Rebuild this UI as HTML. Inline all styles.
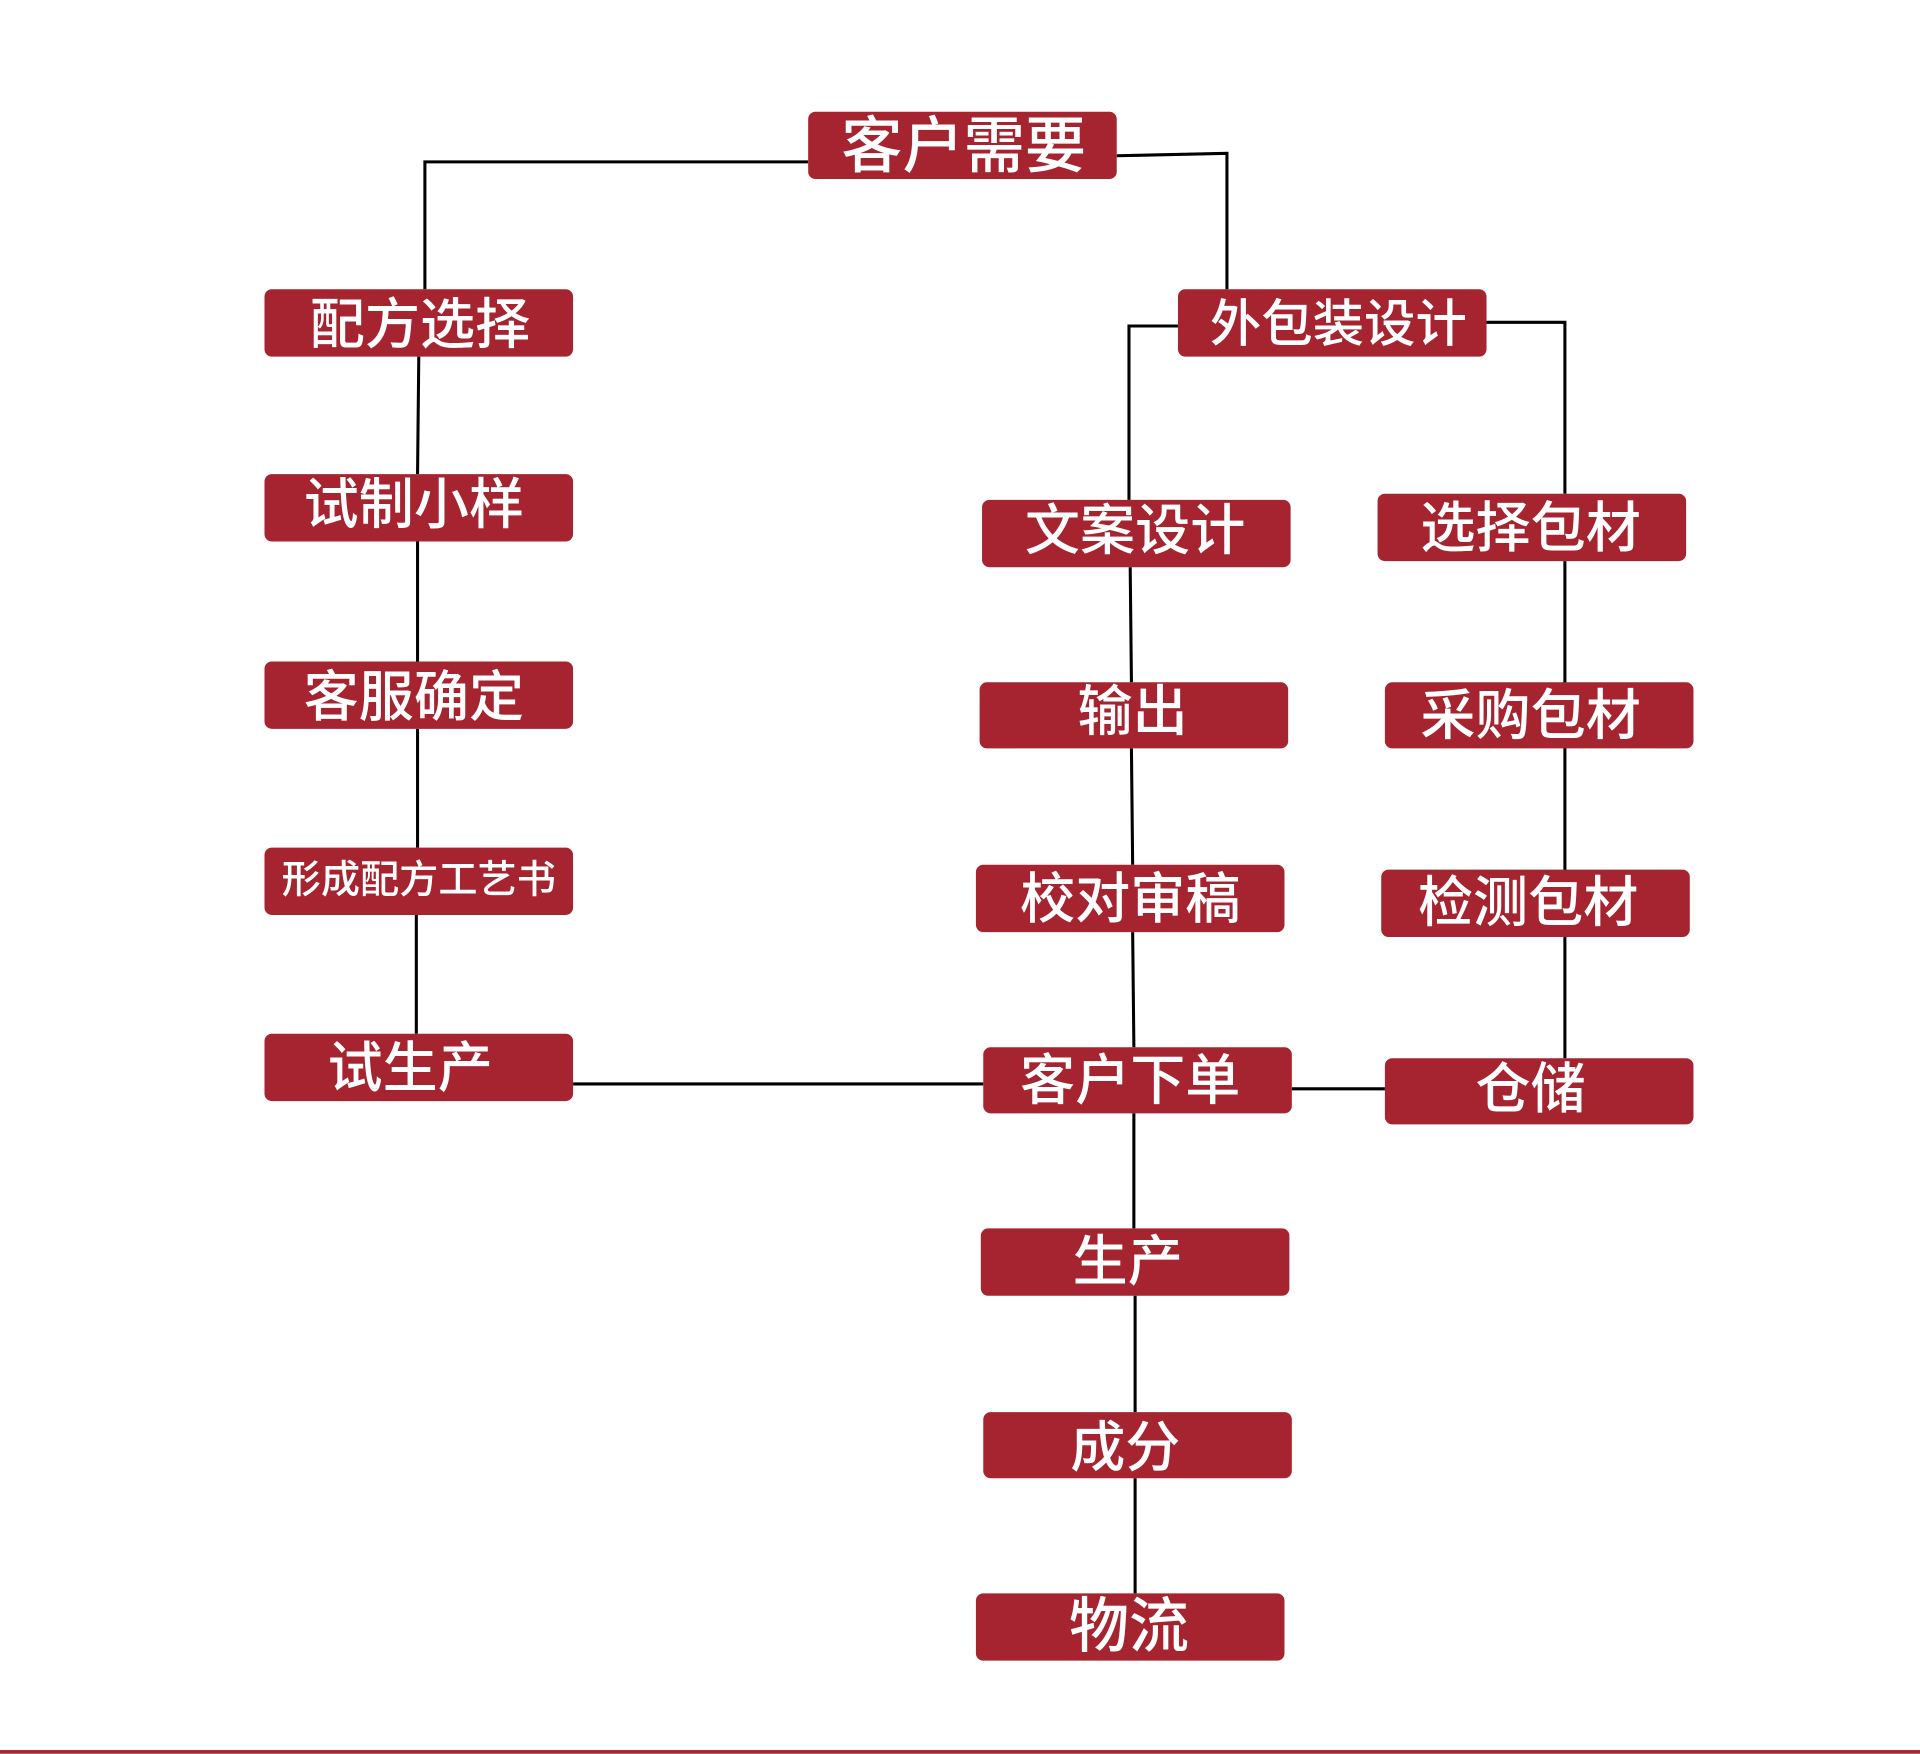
<!DOCTYPE html>
<html><head><meta charset="utf-8"><style>
html,body{margin:0;padding:0;background:#fff;}
svg{display:block}
text{font-family:"Liberation Sans","Noto Sans CJK SC",sans-serif;fill:#fff;font-weight:500;text-anchor:middle;dominant-baseline:central}
</style></head><body>
<svg width="1920" height="1754" viewBox="0 0 1568 1432" xmlns="http://www.w3.org/2000/svg">
<g stroke="#000" stroke-width="2.5" fill="none">
<polyline points="660,132 347,132 347,236"/>
<polyline points="912,127 1002,125 1002,236"/>
<line x1="342" y1="291" x2="341" y2="387"/>
<line x1="341" y1="442" x2="341" y2="540"/>
<line x1="341" y1="595" x2="341" y2="692"/>
<line x1="340" y1="747" x2="340" y2="844"/>
<polyline points="962,266 922,266 922,408"/>
<polyline points="1214,263 1278,263 1278,403"/>
<line x1="1278" y1="458" x2="1278" y2="864"/>
<line x1="923" y1="463" x2="924" y2="557"/>
<line x1="924" y1="611" x2="925" y2="706"/>
<line x1="925" y1="761" x2="926" y2="855"/>
<line x1="926" y1="909" x2="926" y2="1003"/>
<line x1="927" y1="1058" x2="927" y2="1153"/>
<line x1="927" y1="1207" x2="927" y2="1301"/>
<line x1="468" y1="885" x2="803" y2="885"/>
<line x1="1055" y1="889" x2="1131" y2="889"/>
</g>
<g fill="#a6242f">
<rect x="660" y="91" width="252" height="55" rx="6"/>
<rect x="216" y="236" width="252" height="55" rx="6"/>
<rect x="216" y="387" width="252" height="55" rx="6"/>
<rect x="216" y="540" width="252" height="55" rx="6"/>
<rect x="216" y="692" width="252" height="55" rx="6"/>
<rect x="216" y="844" width="252" height="55" rx="6"/>
<rect x="962" y="236" width="252" height="55" rx="6"/>
<rect x="802" y="408" width="252" height="55" rx="6"/>
<rect x="800" y="557" width="252" height="54" rx="6"/>
<rect x="797" y="706" width="252" height="55" rx="6"/>
<rect x="803" y="855" width="252" height="54" rx="6"/>
<rect x="801" y="1003" width="252" height="55" rx="6"/>
<rect x="803" y="1153" width="252" height="54" rx="6"/>
<rect x="797" y="1301" width="252" height="55" rx="6"/>
<rect x="1125" y="403" width="252" height="55" rx="6"/>
<rect x="1131" y="557" width="252" height="54" rx="6"/>
<rect x="1128" y="710" width="252" height="55" rx="6"/>
<rect x="1131" y="864" width="252" height="54" rx="6"/>
<rect x="0" y="1429" width="1568" height="3"/>
</g>
<g>
<text x="787" y="119" font-size="50">客户需要</text>
<text x="343" y="265" font-size="45">配方选择</text>
<text x="338" y="412" font-size="45">试制小样</text>
<text x="338" y="569" font-size="45">客服确定</text>
<text x="342" y="719" font-size="32">形成配方工艺书</text>
<text x="335" y="872" font-size="45">试生产</text>
<text x="1093" y="264" font-size="42">外包装设计</text>
<text x="927" y="433" font-size="45">文案设计</text>
<text x="925" y="581" font-size="45">输出</text>
<text x="923" y="734" font-size="45">校对审稿</text>
<text x="923" y="882" font-size="45">客户下单</text>
<text x="921" y="1030" font-size="45">生产</text>
<text x="919" y="1182" font-size="45">成分</text>
<text x="922" y="1328" font-size="49">物流</text>
<text x="1250" y="431" font-size="45">选择包材</text>
<text x="1250" y="584" font-size="45">采购包材</text>
<text x="1248" y="737" font-size="45">检测包材</text>
<text x="1250" y="889" font-size="45">仓储</text>
</g>
</svg>
</body></html>
